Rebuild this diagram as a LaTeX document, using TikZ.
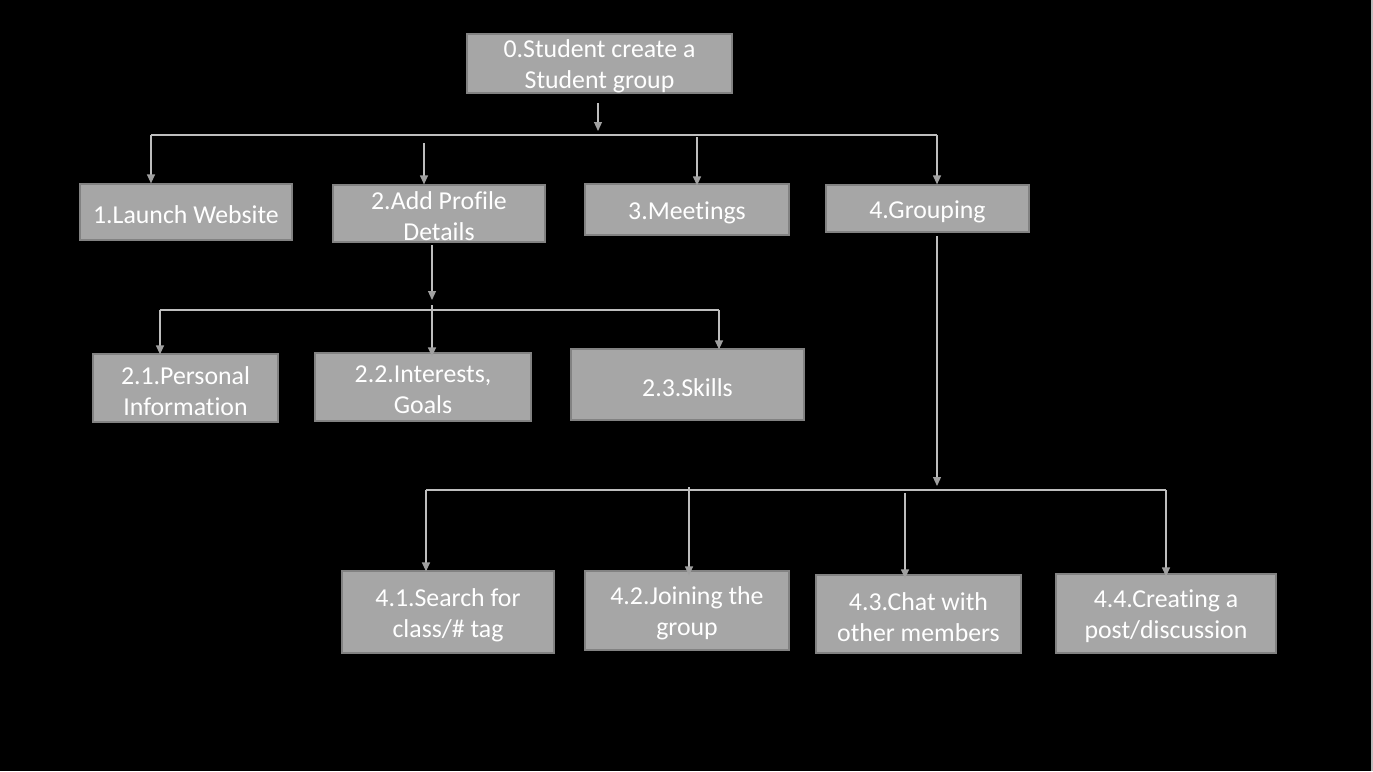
\documentclass[tikz,border=0pt]{standalone}
\usepackage{fontspec}
\setmainfont[Ligatures=NoCommon]{Carlito}
\usetikzlibrary{arrows.meta}
\definecolor{boxfill}{RGB}{166,166,166}
\definecolor{boxline}{RGB}{130,130,130}
\definecolor{wire}{RGB}{190,190,190}
\definecolor{tipc}{RGB}{160,160,160}
\tikzset{
  box/.style={draw=boxline, fill=boxfill, line width=1.2pt, inner sep=0pt},
  txt/.style={inner sep=0pt, align=center, text=white, font=\fontsize{25.8}{31}\selectfont},
  wireln/.style={draw=wire, line width=1.2pt},
  arr/.style={wireln, -{Triangle[width=8pt,length=9pt,fill=tipc,color=tipc]}}
}
\newcommand{\bx}[6]{%
  \node[box, minimum width=#4pt, minimum height=#5pt] (#1) at (#2,#3) {};
  \node[txt] (#1t) at ([yshift=-3pt]#1.center) {#6};}
\begin{document}
\begin{tikzpicture}[x=1pt,y=-1pt]
\fill[black] (0,0) rectangle (1373,771);
\useasboundingbox (0,0) rectangle (1373,771);
\draw[color=wire, line width=2pt] (1372,0) -- (1372,771);

% boxes
\bx{n0}{599.5}{63.5}{265}{59}{0.Student create a\\Student group}
\bx{n1}{186}{212}{212}{56}{1.Launch Website}
\bx{n2}{439}{213.5}{212}{57}{2.Add Profile\\Details}
\bx{n3}{687}{209.5}{204}{51}{3.Meetings}
\bx{n4}{927.5}{208.5}{203}{47}{4.Grouping}
\bx{n21}{185.5}{388}{185}{68}{2.1.Personal\\Information}
\bx{n22}{423}{387}{216}{68}{2.2.Interests,\\Goals}
\bx{n23}{687.5}{384.5}{233}{71}{2.3.Skills}
\bx{n41}{448}{612}{212}{82}{4.1.Search for\\class/\# tag}
\bx{n42}{687}{610.5}{204}{79}{4.2.Joining the\\group}
\bx{n43}{918.5}{614}{205}{78}{4.3.Chat with\\other members}
\bx{n44}{1166}{613.5}{220}{79}{4.4.Creating a\\post/discussion}

% level 1 bus
\coordinate (t0s) at (598,103);
\coordinate (t0e) at (598,131);
\coordinate (b1) at (151,135);
\coordinate (b4) at (937,135);
\coordinate (c2) at (424,143);
\coordinate (c3) at (697,137);
\draw[arr] (t0s) -- (t0e);
\draw[wireln] (b1) -- (b4);
\draw[arr] (b1) -- (b1 |- n1.north);
\draw[arr] (c2) -- (c2 |- n2.north);
\draw[arr] (c3) -- ([yshift=-2pt]c3 |- n3.north);
\draw[arr] (b4) -- (b4 |- n4.north);

% level 2 bus
\coordinate (u0s) at (432,245);
\coordinate (u0e) at (432,300);
\coordinate (d1) at (160,310);
\coordinate (d3) at (719,310);
\coordinate (e2) at (432,305);
\draw[arr] (u0s) -- (u0e);
\draw[wireln] (d1) -- (d3);
\draw[arr] (d1) -- ([yshift=-1pt]d1 |- n21.north);
\draw[arr] (e2) -- ([yshift=-4pt]e2 |- n22.north);
\draw[arr] (d3) -- ([yshift=-1pt]d3 |- n23.north);

% level 4 bus
\coordinate (v0s) at (937,236);
\coordinate (v0e) at (937,486);
\coordinate (g1) at (426,490);
\coordinate (g4) at (1166,490);
\coordinate (h2) at (689,487);
\coordinate (h3) at (905,493);
\draw[arr] (v0s) -- (v0e);
\draw[wireln] (g1) -- (g4);
\draw[arr] (g1) -- ([yshift=-1pt]g1 |- n41.north);
\draw[arr] (h2) -- ([yshift=-5pt]h2 |- n42.north);
\draw[arr] (h3) -- ([yshift=-4pt]h3 |- n43.north);
\draw[arr] (g4) -- ([yshift=-3pt]g4 |- n44.north);
\end{tikzpicture}
\end{document}
